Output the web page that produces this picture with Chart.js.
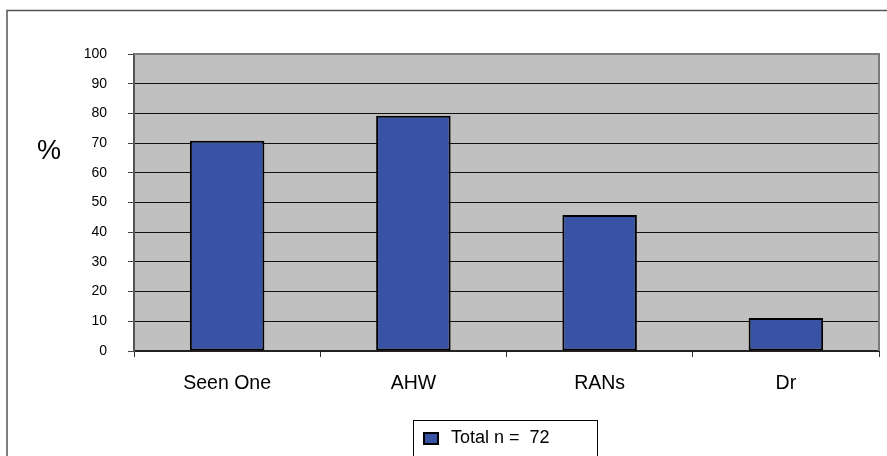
<!DOCTYPE html>
<html>
<head>
<meta charset="utf-8">
<script src="https://cdn.jsdelivr.net/npm/chart.js@4/dist/chart.umd.min.js"></script>
<style>
  html, body { margin: 0; padding: 0; background: #fff; }
  canvas { display: block; }
</style>
</head>
<body>
<canvas id="c" width="887" height="456"></canvas>
<script>
// Share of respondents by category (percent)
const categories = ['Seen One', 'AHW', 'RANs', 'Dr'];
const percentValues = [70.8, 79.2, 45.8, 11.1];
const seriesLabel = 'Total n =  72';
const axisTitle = '%';
const yMin = 0, yMax = 100, yStep = 10;

const FONT = "'Liberation Sans', Arial, Helvetica, sans-serif";
const BAR_FILL = '#3953A4';
const PLOT_BG = '#C0C0C0';

const decorations = {
  id: 'decorations',
  beforeDraw(chart) {
    const { ctx, chartArea: a } = chart;
    ctx.save();
    ctx.fillStyle = '#fff';
    ctx.fillRect(0, 0, chart.width, chart.height);
    ctx.fillStyle = PLOT_BG;
    ctx.fillRect(a.left, a.top, a.right - a.left, a.bottom - a.top);
    ctx.restore();
  },
  beforeDatasetsDraw(chart) {
    // top and right edges of the plot area
    const { ctx, chartArea: a } = chart;
    ctx.save();
    ctx.strokeStyle = '#7a7a7a';
    ctx.lineWidth = 2;
    ctx.beginPath();
    ctx.moveTo(a.left, a.top);
    ctx.lineTo(a.right, a.top);
    ctx.lineTo(a.right, a.bottom);
    ctx.stroke();
    ctx.restore();
  },
  afterDraw(chart) {
    const { ctx } = chart;
    ctx.save();
    // outer frame
    ctx.strokeStyle = '#555';
    ctx.lineWidth = 1.5;
    ctx.strokeRect(7, 10.5, chart.width + 10, chart.height + 10);

    // axis title
    ctx.fillStyle = '#000';
    ctx.font = '27px ' + FONT;
    ctx.textAlign = 'center';
    ctx.textBaseline = 'middle';
    ctx.fillText(axisTitle, 49, 152);

    // legend box
    const ds = chart.data.datasets[0];
    ctx.strokeStyle = '#000';
    ctx.lineWidth = 1;
    ctx.strokeRect(413.5, 420.5, 184, 60);
    ctx.fillStyle = ds.backgroundColor;
    ctx.fillRect(424, 433, 14, 11);
    ctx.lineWidth = 2;
    ctx.strokeRect(424, 433, 14, 11);
    ctx.fillStyle = '#000';
    ctx.font = '18px ' + FONT;
    ctx.textAlign = 'left';
    ctx.textBaseline = 'middle';
    ctx.fillText(ds.label, 451, 438);
    ctx.restore();
  }
};

new Chart(document.getElementById('c'), {
  type: 'bar',
  data: {
    labels: categories,
    datasets: [{
      label: seriesLabel,
      data: percentValues,
      backgroundColor: BAR_FILL,
      borderColor: '#000',
      borderWidth: 2,
      borderSkipped: false,
      barPercentage: 0.4,
      categoryPercentage: 1.0
    }]
  },
  options: {
    responsive: false,
    animation: false,
    devicePixelRatio: 1,
    layout: { padding: { top: 54, right: 8, left: 0, bottom: 0 } },
    plugins: {
      legend: { display: false },
      tooltip: { enabled: false }
    },
    scales: {
      x: {
        z: 1,
        grid: {
          offset: true,
          drawOnChartArea: false,
          tickLength: 6,
          tickColor: '#333',
          lineWidth: 1
        },
        border: { color: '#222', width: 2 },
        ticks: {
          color: '#000',
          font: { family: FONT, size: 19.5 },
          padding: 15,
          maxRotation: 0
        },
        afterFit(s) { s.height = 105; }
      },
      y: {
        min: yMin,
        max: yMax,
        ticks: {
          stepSize: yStep,
          color: '#000',
          font: { family: FONT, size: 14 },
          padding: 21
        },
        grid: {
          color: (c) => (c.tick && (c.tick.value === yMax || c.tick.value === yMin)) ? 'rgba(0,0,0,0)' : '#111',
          tickColor: '#444',
          tickLength: 6,
          lineWidth: 1
        },
        border: { color: '#555', width: 2 },
        afterFit(s) { s.width = 134; }
      }
    }
  },
  plugins: [decorations]
});
</script>
</body>
</html>
